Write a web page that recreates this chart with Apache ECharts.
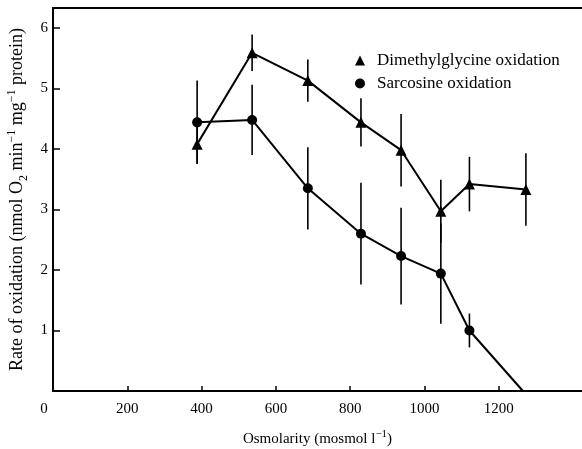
<!DOCTYPE html>
<html>
<head>
<meta charset="utf-8">
<script src="https://cdn.jsdelivr.net/npm/echarts@6/dist/echarts.min.js"></script>
<style>html,body{margin:0;padding:0;background:#fff;}#c{width:582px;height:449px;}</style>
</head>
<body>
<div id="c"></div>
<script>
// Osmolarity (mosmol l-1)
var dmgX = [388, 536, 686, 829, 937, 1044, 1121, 1273];
var dmgY = [4.08, 5.59, 5.13, 4.44, 3.98, 2.97, 3.42, 3.33];
var dmgErr = [0.32, 0.30, 0.35, 0.40, 0.60, 0.52, 0.45, 0.60];
var sarX = [388, 536, 686, 829, 937, 1044, 1121];
var sarY = [4.44, 4.48, 3.35, 2.60, 2.23, 1.94, 1.00];
var sarErr = [0.69, 0.58, 0.68, 0.84, 0.80, 0.83, 0.28];
var sarEnd = [1265, 0];
var xTicks = [0, 200, 400, 600, 800, 1000, 1200];
var yTicks = [1, 2, 3, 4, 5, 6];

var FONT = "'Liberation Serif', 'Times New Roman', serif";
var chart = echarts.init(document.getElementById('c'), null, {renderer: 'canvas'});

function errData(xs, ys, es) {
  return xs.map(function (x, i) { return [x, ys[i] - es[i], ys[i] + es[i]]; });
}
function errRender(params, api) {
  var p1 = api.coord([api.value(0), api.value(1)]);
  var p2 = api.coord([api.value(0), api.value(2)]);
  return {
    type: 'line',
    shape: {x1: p1[0], y1: p1[1], x2: p2[0], y2: p2[1]},
    style: {stroke: '#000', lineWidth: 1.6}
  };
}

var sarLine = sarX.map(function (x, i) { return [x, sarY[i]]; });
sarLine.push({value: sarEnd, symbol: 'none'});

chart.setOption({
  animation: false,
  backgroundColor: '#fff',
  textStyle: {fontFamily: FONT, color: '#000'},
  grid: {left: 53, right: 0, top: 8, bottom: 58, containLabel: false, outerBoundsMode: 'none'},
  legend: {
    orient: 'vertical',
    left: 350,
    top: 47,
    itemWidth: 10,
    itemHeight: 10,
    itemGap: 6,
    textStyle: {fontFamily: FONT, fontSize: 17, color: '#000', padding: [0, 0, 0, 7]},
    data: [
      {name: 'Dimethylglycine oxidation', icon: 'triangle'},
      {name: 'Sarcosine oxidation', icon: 'circle'}
    ]
  },
  xAxis: [{
    type: 'value',
    min: 0,
    max: 1424,
    name: '{n|Osmolarity (mosmol l}{sup|\u22121}{n|)}',
    nameLocation: 'middle',
    nameGap: 38,
    nameTextStyle: {
      fontFamily: FONT, fontSize: 15, color: '#000',
      rich: {
        n: {fontFamily: FONT, fontSize: 15, color: '#000', lineHeight: 20},
        sup: {fontFamily: FONT, fontSize: 11, color: '#000', verticalAlign: 'top', lineHeight: 9}
      }
    },
    splitLine: {show: false},
    axisLine: {lineStyle: {color: '#000', width: 2}},
    axisTick: {inside: true, length: 5, customValues: xTicks.slice(1), lineStyle: {color: '#000', width: 1.5}},
    axisLabel: {
      customValues: xTicks,
      margin: 11,
      fontFamily: FONT, fontSize: 15, color: '#000',
      formatter: function (v) { return v === 0 ? '{z|0}' : String(v); },
      rich: {z: {fontFamily: FONT, fontSize: 15, color: '#000', padding: [0, 18, 0, 0]}}
    }
  }, {
    type: 'value',
    position: 'top',
    min: 0,
    max: 1424,
    splitLine: {show: false},
    axisLine: {show: true, lineStyle: {color: '#000', width: 2}},
    axisTick: {show: false},
    axisLabel: {show: false}
  }],
  yAxis: {
    type: 'value',
    min: 0,
    max: 6.33,
    name: '{n|Rate of oxidation (nmol O}{sub|2}{n| min}{sup|\u22121}{n| mg}{sup|\u22121}{n| protein)}',
    nameLocation: 'middle',
    nameRotate: 90,
    nameGap: 22,
    nameTextStyle: {
      fontFamily: FONT, fontSize: 18, color: '#000',
      rich: {
        n: {fontFamily: FONT, fontSize: 18, color: '#000', lineHeight: 24},
        sub: {fontFamily: FONT, fontSize: 12, color: '#000', verticalAlign: 'bottom', lineHeight: 10},
        sup: {fontFamily: FONT, fontSize: 12, color: '#000', verticalAlign: 'top', lineHeight: 10}
      }
    },
    splitLine: {show: false},
    axisLine: {lineStyle: {color: '#000', width: 2}},
    axisTick: {inside: true, length: 7, customValues: yTicks, lineStyle: {color: '#000', width: 1.5}},
    axisLabel: {customValues: yTicks, margin: 5, fontFamily: FONT, fontSize: 15, color: '#000'}
  },
  series: [{
    type: 'custom',
    name: 'dmgErr',
    renderItem: errRender,
    data: errData(dmgX, dmgY, dmgErr),
    encode: {x: 0, y: [1, 2]},
    silent: true,
    z: 1
  }, {
    type: 'custom',
    name: 'sarErr',
    renderItem: errRender,
    data: errData(sarX, sarY, sarErr),
    encode: {x: 0, y: [1, 2]},
    silent: true,
    z: 1
  }, {
    type: 'line',
    name: 'Dimethylglycine oxidation',
    data: dmgX.map(function (x, i) { return [x, dmgY[i]]; }),
    symbol: 'triangle',
    symbolSize: 11,
    showAllSymbol: true,
    lineStyle: {color: '#000', width: 2},
    itemStyle: {color: '#000'},
    z: 3
  }, {
    type: 'line',
    name: 'Sarcosine oxidation',
    data: sarLine,
    symbol: 'circle',
    symbolSize: 10,
    showAllSymbol: true,
    lineStyle: {color: '#000', width: 2},
    itemStyle: {color: '#000'},
    z: 3
  }]
});
</script>
</body>
</html>
